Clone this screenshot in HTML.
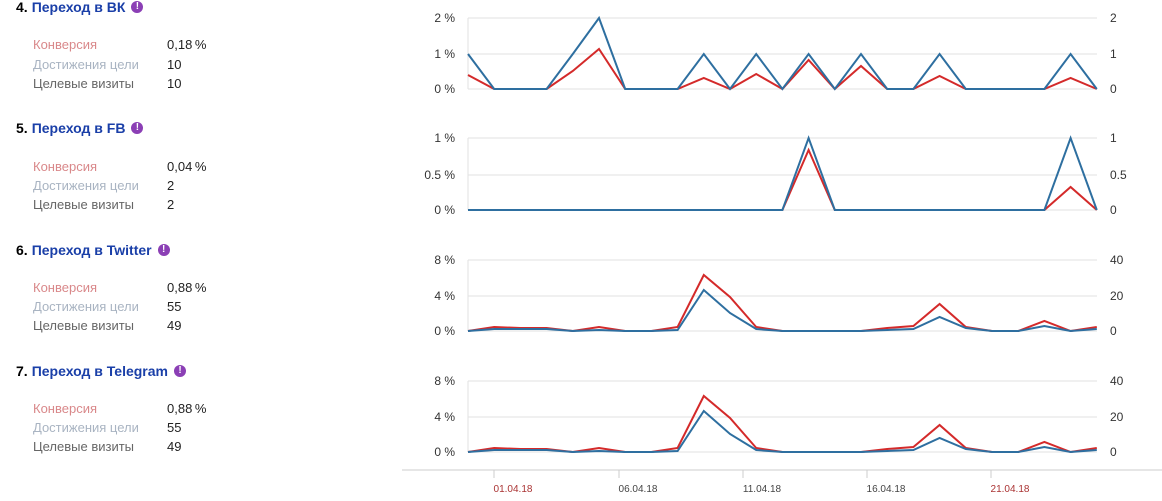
<!DOCTYPE html>
<html><head><meta charset="utf-8">
<style>
body{margin:0;width:1162px;height:501px;background:#fff;overflow:hidden;font-family:"Liberation Sans",Arial,sans-serif;position:relative}
.t{position:absolute;left:16px;font-size:14px;font-weight:bold;color:#1a3fa8;white-space:nowrap}
.t b{color:#000;margin-right:4px}
.t i{display:inline-block;width:12px;height:12px;border-radius:50%;background:#8b3fb5;color:#fff;font-size:10px;font-style:normal;text-align:center;line-height:12px;margin-left:6px;vertical-align:3px}
.r{position:absolute;left:33px;font-size:13px;white-space:nowrap}
.r span{position:absolute;left:134px;color:#222}
.c1{color:#d9888a}.c2{color:#a9b4c2}.c3{color:#666}
</style></head><body>
<div class="t" style="top:-1px"><b>4.</b>Переход в ВК<i>!</i></div>
<div class="r c1" style="top:37px">Конверсия<span>0,18&#8201;%</span></div>
<div class="r c2" style="top:57px">Достижения цели<span>10</span></div>
<div class="r c3" style="top:76px">Целевые визиты<span>10</span></div>

<div class="t" style="top:120px"><b>5.</b>Переход в FB<i>!</i></div>
<div class="r c1" style="top:159px">Конверсия<span>0,04&#8201;%</span></div>
<div class="r c2" style="top:178px">Достижения цели<span>2</span></div>
<div class="r c3" style="top:197px">Целевые визиты<span>2</span></div>

<div class="t" style="top:242px"><b>6.</b>Переход в Twitter<i>!</i></div>
<div class="r c1" style="top:280px">Конверсия<span>0,88&#8201;%</span></div>
<div class="r c2" style="top:299px">Достижения цели<span>55</span></div>
<div class="r c3" style="top:318px">Целевые визиты<span>49</span></div>

<div class="t" style="top:363px"><b>7.</b>Переход в Telegram<i>!</i></div>
<div class="r c1" style="top:401px">Конверсия<span>0,88&#8201;%</span></div>
<div class="r c2" style="top:420px">Достижения цели<span>55</span></div>
<div class="r c3" style="top:439px">Целевые визиты<span>49</span></div>

<svg id="s" width="1162" height="501" style="position:absolute;left:0;top:0" font-family="Liberation Sans, Arial, sans-serif" font-size="12"></svg>
<script>
var s=document.getElementById('s'),h='';
function X(i){return 468+26.2*i}
function grid(ys,ll,rl){ys.forEach(function(y,k){h+='<line x1="468" x2="1097" y1="'+y+'" y2="'+y+'" stroke="#e2e2e2"/>';
h+='<text x="455" y="'+(y+4)+'" text-anchor="end" fill="#333">'+ll[k]+'</text><text x="1110" y="'+(y+4)+'" fill="#333">'+rl[k]+'</text>';});
h+='<line x1="468" x2="468" y1="'+ys[ys.length-1]+'" y2="'+ys[0]+'" stroke="#e2e2e2"/>';}
function line(ys,c){var p=ys.map(function(y,i){return X(i).toFixed(1)+','+y}).join(' ');h+='<polyline points="'+p+'" fill="none" stroke="'+c+'" stroke-width="2" stroke-linejoin="miter"/>';}
grid([89,54,18],['0 %','1 %','2 %'],['0','1','2']);
var b=[54,89,89,89,54,18,89,89,89,54,89,54,89,54,89,54,89,89,54,89,89,89,89,54,89];
line([75,89,89,89,71,49,89,89,89,78,89,74,89,60,89,66,89,89,76,89,89,89,89,78,89],'#d42a2a');
line(b,'#2e6fa0');
grid([210,175,138],['0 %','0.5 %','1 %'],['0','0.5','1']);
var r2=[],b2=[];for(var i=0;i<25;i++){r2.push(210);b2.push(210)}r2[13]=150;b2[13]=138;r2[23]=187;b2[23]=138;
line(r2,'#d42a2a');line(b2,'#2e6fa0');
function tw(o){grid([331+o,296+o,260+o],['0 %','4 %','8 %'],['0','20','40']);
var r=[331,327,328,328,331,327,331,331,327,275,297,327,331,331,331,331,328,326,304,327,331,331,321,331,327];
var bb=[331,329,329,329,331,330,331,331,330,290,313,329,331,331,331,331,330,329,317,328,331,331,326,331,329];
line(r.map(function(v){return v+o}),'#d42a2a');line(bb.map(function(v){return v+o}),'#2e6fa0');}
tw(0);tw(121);
h+='<line x1="402" x2="1162" y1="470" y2="470" stroke="#ccc"/>';
[[494,'01.04.18','#a33'],[619,'06.04.18','#444'],[743,'11.04.18','#444'],[867,'16.04.18','#444'],[991,'21.04.18','#a33']].forEach(function(t){
h+='<line x1="'+t[0]+'" x2="'+t[0]+'" y1="470" y2="478" stroke="#ccc"/><text x="'+(t[0]+19)+'" y="492" text-anchor="middle" font-size="10" fill="'+t[2]+'">'+t[1]+'</text>';});
s.innerHTML=h;
</script>
</body></html>
